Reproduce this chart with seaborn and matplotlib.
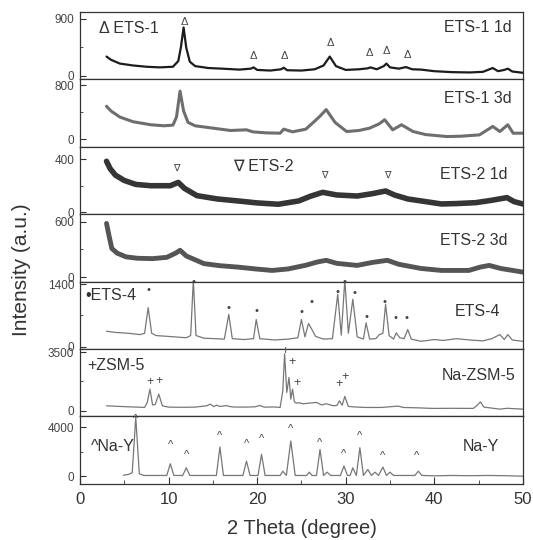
import numpy as np
import pandas as pd
import matplotlib
matplotlib.use("Agg")
import matplotlib.pyplot as plt
from matplotlib.ticker import FixedLocator, MultipleLocator
import seaborn as sns

# Pattern XRD (2 theta, intensita')
ets1_1d_x = [3.0, 3.5, 4.5, 6.0, 7.5, 9.0, 10.5, 11.1, 11.4, 11.7, 12.0, 12.4, 13.0, 14.5, 16.0, 18.0,
             19.3, 19.6, 20.0, 21.5, 22.7, 23.0, 23.4, 25.0, 26.5, 27.5, 28.2, 28.9, 30.0, 31.5, 32.5,
             32.8, 33.5, 34.3, 34.6, 35.0, 36.0, 36.8, 37.5, 38.5, 40.0, 42.0, 44.0, 45.5, 46.6, 47.2,
             47.9, 48.3, 48.8, 50.0]
ets1_1d_y = [300, 250, 190, 160, 140, 130, 140, 230, 450, 760, 440, 220, 150, 120, 110, 95,
             110, 130, 90, 80, 100, 125, 85, 80, 100, 160, 300, 150, 90, 100, 115,
             130, 100, 150, 190, 130, 110, 135, 100, 95, 70, 55, 50, 60, 120, 70,
             90, 110, 65, 45]

ets1_3d_x = [3.0, 3.5, 4.5, 6.0, 8.0, 9.5, 10.5, 10.9, 11.3, 11.7, 12.2, 13.0, 15.0, 17.0, 18.8, 19.5,
             21.0, 22.6, 23.0, 24.0, 25.5, 26.3, 27.0, 27.8, 28.8, 30.1, 31.5, 32.7, 33.8, 34.4, 35.3,
             36.3, 37.6, 39.0, 41.4, 43.0, 45.1, 46.6, 47.4, 48.3, 48.9, 50.0]
ets1_3d_y = [490, 420, 330, 260, 215, 200, 210, 330, 715, 420, 250, 200, 165, 130, 140, 110,
             95, 90, 150, 110, 150, 245, 330, 440, 250, 115, 130, 165, 230, 290, 140,
             215, 115, 70, 40, 45, 65, 190, 115, 215, 90, 90]

ets2_1d_x = [3.0, 3.4, 4.0, 5.0, 6.3, 8.0, 10.2, 11.1, 11.8, 13.2, 15.5, 17.8, 20.0, 22.4, 24.7, 26.0,
             27.4, 29.0, 31.3, 33.0, 34.5, 35.5, 37.0, 39.0, 40.8, 42.5, 44.7, 46.5, 48.2, 49.0, 50.0]
ets2_1d_y = [385, 330, 280, 240, 210, 200, 200, 225, 180, 125, 100, 85, 70, 60, 85, 120,
             150, 130, 122, 140, 160, 130, 100, 80, 62, 65, 72, 90, 110, 80, 62]

ets2_3d_x = [3.0, 3.3, 3.6, 4.2, 5.2, 6.5, 8.2, 9.8, 10.8, 11.3, 12.0, 14.0, 15.8, 17.8, 19.8, 21.7,
             23.5, 25.5, 26.8, 27.8, 29.0, 31.3, 33.0, 34.7, 36.0, 38.5, 40.8, 43.9, 45.2, 46.2, 47.5, 50.0]
ets2_3d_y = [580, 440, 310, 260, 220, 205, 201, 215, 260, 291, 230, 147, 125, 110, 90, 74,
             90, 130, 165, 183, 150, 128, 160, 183, 140, 95, 74, 74, 110, 128, 95, 56]

ets4_x = [3.0, 4.0, 5.5, 6.8, 7.3, 7.7, 8.1, 8.6, 10.0, 12.0, 12.5, 12.8, 13.1, 14.0, 16.3, 16.8,
          17.2, 18.5, 19.6, 19.9, 20.3, 22.0, 23.5, 24.6, 25.0, 25.4, 25.8, 26.2, 26.6, 27.5, 28.5,
          29.1, 29.5, 29.9, 30.3, 30.8, 31.3, 32.0, 32.3, 32.7, 33.4, 33.8, 34.2, 34.5, 34.9, 35.4,
          35.7, 36.1, 36.6, 37.0, 37.4, 38.5, 40.0, 41.0, 42.5, 44.0, 45.5, 46.5, 47.4, 47.9, 48.3,
          48.8, 50.0]
ets4_y = [346, 320, 300, 271, 300, 875, 300, 249, 230, 200, 250, 1500, 250, 190, 170, 723,
          180, 160, 180, 610, 180, 150, 170, 200, 610, 220, 520, 380, 230, 170, 180,
          1175, 260, 1500, 300, 1062, 220, 170, 535, 170, 180, 271, 300, 949, 250, 170,
          309, 200, 180, 384, 170, 120, 160, 140, 180, 150, 130, 180, 271, 160, 271,
          150, 120]

zsm5_x = [3.0, 4.5, 6.0, 7.3, 7.6, 7.9, 8.2, 8.5, 8.9, 9.3, 10.0, 11.5, 13.0, 14.3, 14.7, 15.1,
          15.4, 15.8, 16.5, 17.2, 18.5, 19.8, 20.3, 20.8, 22.0, 22.6, 22.9, 23.1, 23.35, 23.6, 23.8,
          24.0, 24.2, 24.4, 24.7, 25.2, 25.9, 26.7, 27.3, 27.8, 28.6, 29.0, 29.3, 29.6, 29.9, 30.3,
          31.0, 32.3, 34.0, 35.9, 36.5, 38.0, 39.8, 42.0, 44.4, 44.9, 45.2, 45.6, 46.2, 47.4, 48.2, 50.0]
zsm5_y = [298, 260, 230, 202, 500, 1291, 350, 380, 994, 300, 220, 210, 220, 300, 397, 250,
          340, 260, 310, 230, 220, 240, 320, 220, 230, 200, 1200, 3400, 1095, 1987, 700,
          1291, 550, 458, 480, 420, 458, 500, 350, 420, 300, 320, 595, 330, 857, 262,
          230, 200, 200, 280, 200, 180, 143, 150, 143, 350, 536, 220, 180, 101, 150, 101]

nay_x = [4.9, 5.5, 5.9, 6.3, 6.7, 7.2, 9.8, 10.2, 10.6, 11.6, 12.0, 12.4, 15.4, 15.8, 16.2, 18.4,
         18.8, 19.2, 20.1, 20.5, 20.9, 22.6, 22.9, 23.3, 23.8, 24.3, 25.6, 25.9, 26.2, 26.7, 27.1,
         27.5, 27.9, 28.3, 29.4, 29.8, 30.2, 30.5, 30.8, 31.2, 31.6, 32.0, 32.5, 32.9, 33.3, 33.7,
         34.2, 34.6, 35.0, 35.4, 37.8, 38.2, 38.6, 40.0, 42.0, 44.0, 46.0, 48.0, 50.0]
nay_y = [80, 150, 280, 4850, 200, 60, 60, 1020, 60, 60, 690, 60, 60, 2400, 60, 60,
         1240, 60, 60, 1790, 60, 60, 410, 60, 2890, 60, 60, 330, 60, 60, 2200,
         60, 330, 60, 60, 830, 60, 60, 690, 60, 2340, 60, 550, 60, 330, 60,
         750, 60, 330, 60, 60, 410, 60, 30, 60, 40, 60, 40, 0]

# Simboli sopra i picchi
ets1_mark_x = [11.8, 19.6, 23.1, 28.3, 32.7, 34.6, 37.0]
ets1_mark_y = [850, 306, 306, 515, 353, 385, 333]
ets2_mark_x = [10.9, 27.6, 34.7]
ets2_mark_y = [333, 283, 283]
ets4_mark_x = [7.7, 12.8, 16.8, 19.9, 25.0, 26.1, 29.1, 29.9, 31.0, 32.3, 34.4, 35.6, 36.9]
ets4_mark_y = [1272, 1440, 875, 798, 775, 1001, 1227, 1440, 1198, 662, 1001, 649, 649]
zsm5_mark_x = [7.9, 8.9, 23.1, 23.9, 24.5, 29.3, 29.9]
zsm5_mark_y = [1690, 1785, 3570, 2880, 1650, 1589, 2023]
nay_mark_x = [6.3, 10.2, 12.0, 15.8, 18.8, 20.5, 23.8, 27.1, 29.8, 31.6, 34.2, 38.0]
nay_mark_y = [4700, 2560, 1735, 3300, 2676, 3030, 3857, 2760, 1850, 3300, 1650, 1650]

sample_names = ["ETS-1 1d", "ETS-1 3d", "ETS-2 1d", "ETS-2 3d", "ETS-4", "Na-ZSM-5", "Na-Y"]
y_tops = [900, 800, 400, 600, 1400, 3500, 4000]

sns.set_style("ticks")
plt.rcParams['font.family'] = ['Liberation Sans', 'DejaVu Sans']

panels = [
    dict(x=ets1_1d_x, y=ets1_1d_y, ylim=(-58, 1005), color='#1c1c1c', lw=1.6,
         mx=ets1_mark_x, my=ets1_mark_y, sym='\u0394', msize=8,
         label_pos=(48.7, 753), legend=('\u0394 ETS-1', 2.1, 750)),
    dict(x=ets1_3d_x, y=ets1_3d_y, ylim=(-111, 890), color='#6e6e6e', lw=2.2,
         label_pos=(48.7, 600)),
    dict(x=ets2_1d_x, y=ets2_1d_y, ylim=(-15, 495), color='#353535', lw=4.0,
         mx=ets2_mark_x, my=ets2_mark_y, sym='\u2207', msize=7,
         label_pos=(48.3, 284), legend=('\u2207 ETS-2', 17.3, 349)),
    dict(x=ets2_3d_x, y=ets2_3d_y, ylim=(-46, 680), color='#555555', lw=3.5,
         label_pos=(48.3, 400)),
    dict(x=ets4_x, y=ets4_y, ylim=(-52, 1460), color='#777777', lw=0.9,
         mx=ets4_mark_x, my=ets4_mark_y, sym='\u2022', msize=8,
         label_pos=(47.4, 798), legend=('\u2022ETS-4', 0.6, 1137)),
    dict(x=zsm5_x, y=zsm5_y, ylim=(-333, 3680), color='#777777', lw=0.9,
         mx=zsm5_mark_x, my=zsm5_mark_y, sym='+', msize=9,
         label_pos=(49.2, 2083), legend=('+ZSM-5', 0.8, 2677)),
    dict(x=nay_x, y=nay_y, ylim=(-628, 4910), color='#777777', lw=0.9,
         mx=nay_mark_x, my=nay_mark_y, sym='^', msize=8,
         label_pos=(47.3, 2478), legend=('^Na-Y', 1.2, 2478)),
]

fig, axes = plt.subplots(7, 1, figsize=(5.33, 5.40), dpi=100, sharex=True)
fig.subplots_adjust(left=0.150, right=0.981, top=0.978, bottom=0.104, hspace=0)

for ax, p, name, top in zip(axes, panels, sample_names, y_tops):
    df = pd.DataFrame({'theta': p['x'], 'intensity': p['y']})
    sns.lineplot(data=df, x='theta', y='intensity', ax=ax, color=p['color'],
                 linewidth=p['lw'], estimator=None, sort=False)
    ax.set_xlim(0, 50)
    ax.set_ylim(*p['ylim'])
    ax.set_xlabel('')
    ax.set_ylabel('')
    ax.yaxis.set_major_locator(FixedLocator([0, top]))
    ax.yaxis.set_minor_locator(FixedLocator([top / 2]))
    ax.tick_params(axis='y', which='both', direction='in', left=True, right=False,
                   labelsize=8.5, pad=4, colors='#333333', labelcolor='#444444')
    ax.tick_params(axis='y', which='major', length=4)
    ax.tick_params(axis='y', which='minor', length=2.5)
    ax.tick_params(axis='x', which='both', bottom=False, top=False)
    for s in ax.spines.values():
        s.set_visible(True)
        s.set_linewidth(0.9)
        s.set_color('#333333')
    ax.text(p['label_pos'][0], p['label_pos'][1], name, ha='right', va='center',
            fontsize=11.5, color='#333333')
    if 'legend' in p:
        t, lx, ly = p['legend']
        ax.text(lx, ly, t, ha='left', va='center', fontsize=11.5, color='#333333')
    if 'mx' in p:
        for mx, my in zip(p['mx'], p['my']):
            ax.text(mx, my, p['sym'], ha='center', va='center', fontsize=p['msize'],
                    color='#444444')

bottom_ax = axes[-1]
bottom_ax.xaxis.set_major_locator(MultipleLocator(10))
bottom_ax.xaxis.set_minor_locator(MultipleLocator(5))
bottom_ax.tick_params(axis='x', which='both', bottom=True, direction='in',
                      labelsize=12, pad=6, colors='#333333', labelcolor='#333333')
bottom_ax.tick_params(axis='x', which='major', length=5)
bottom_ax.tick_params(axis='x', which='minor', length=3)

fig.text(0.566, 0.022, '2 Theta (degree)', ha='center', va='center', fontsize=14.5, color='#333333')
fig.text(0.041, 0.5, 'Intensity (a.u.)', ha='center', va='center', rotation=90,
         fontsize=15, color='#333333')

fig.savefig('out.png', dpi=100, facecolor='white')
